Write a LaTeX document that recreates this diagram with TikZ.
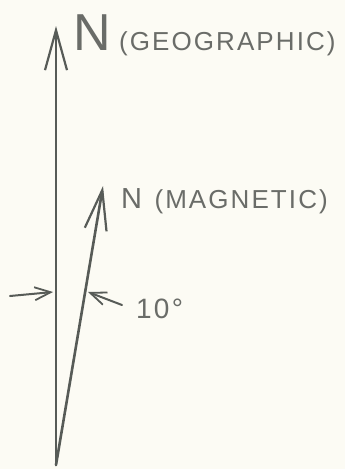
\documentclass[tikz,border=0pt]{standalone}
\usepackage{fontspec}
\usepackage{xcolor}
\usetikzlibrary{positioning, arrows.meta, calc}
\newfontfamily\handfont[LetterSpace=8]{Liberation Sans}
\definecolor{paper}{HTML}{FCFBF4}
\definecolor{pencil}{HTML}{575B57}
\definecolor{lettering}{HTML}{6A6C68}

\begin{document}
\begin{tikzpicture}[
  x=1pt, y=-1pt,
  every node/.style={text=lettering, inner sep=0pt, anchor=base west},
  needle/.style={draw=pencil, line width=2.6pt, line cap=round,
    -{Straight Barb[length=40pt, width=22pt, line width=2.2pt]}},
  pointer/.style={draw=pencil, line width=2pt, line cap=round,
    -{Straight Barb[length=16pt, width=13pt, line width=1.8pt]}}
]

% paper
\fill[paper] (0,0) rectangle (345,469);
\useasboundingbox (0,0) rectangle (345,469);

% the two north directions
\coordinate (origin) at (56,465);
\coordinate (geo) at (56,26);
\coordinate (mag) at (103,186);
\draw[needle] (origin) -- (geo);
\draw[needle] (origin) -- (mag);

% labels
\node[font=\handfont\fontsize{52}{52}\selectfont] (geoN) at (73,50) {N};
\node[font=\handfont\fontsize{26}{26}\selectfont, right=8pt of geoN.base east, anchor=base west] (geolabel) {(GEOGRAPHIC)};
\node[font=\handfont\fontsize{29}{29}\selectfont] (magN) at (121,208) {N};
\node[font=\handfont\fontsize{26}{26}\selectfont, right=12pt of magN.base east, anchor=base west] (maglabel) {(MAGNETIC)};

% angle between them
\coordinate (lefttail) at (10,296);
\coordinate (righttail) at (122,305);
\coordinate (geohit) at (53,292);
\coordinate (maghit) at (88,292);
\draw[pointer] (lefttail) -- (geohit);
\draw[pointer] (righttail) -- (maghit);
\node[font=\handfont\fontsize{28}{28}\selectfont] (angle) at (136,318) {10°};

\end{tikzpicture}
\end{document}
